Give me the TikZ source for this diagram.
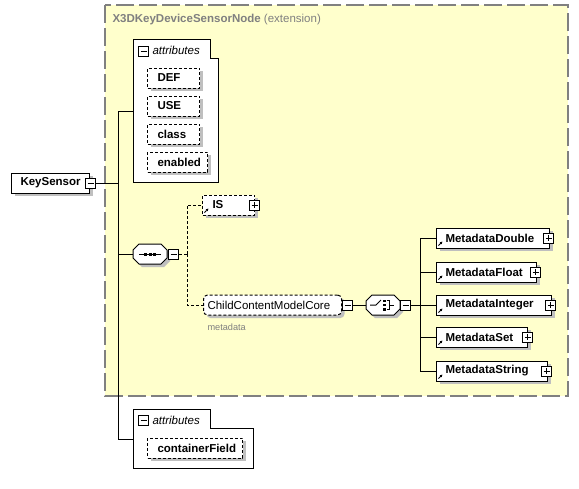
\documentclass[tikz,border=0pt]{standalone}
\usepackage{fontspec}
\setmainfont{Liberation Sans}
\usetikzlibrary{shadows,arrows.meta}

\definecolor{groupfill}{RGB}{255,255,204}
\definecolor{groupline}{RGB}{128,128,128}
\newcommand\diagfont{\fontsize{11.5}{13}\selectfont}

\tikzset{
 boxshadow/.style={drop shadow={shadow xshift=3pt,shadow yshift=-3pt,fill=black!25,opacity=1}},
 elem/.style={draw,fill=white,anchor=west,minimum height=20,inner xsep=9pt,inner ysep=0pt,
  align=left,font=\diagfont\bfseries,boxshadow},
 attr/.style={elem,dash pattern=on 3pt off 2pt,inner xsep=10pt},
 ref/.style={elem,path picture={
  \draw[-{Latex[length=2.6pt,width=3pt]},line width=1pt]
   ([shift={(2pt,2.5pt)}]path picture bounding box.south west) -- ++(4pt,4pt);}},
 pm/.style={draw,fill=white,anchor=west,minimum size=10,inner sep=0pt},
 minusbox/.style={pm,path picture={
  \draw ([xshift=2pt]path picture bounding box.west) -- ([xshift=-2pt]path picture bounding box.east);}},
 plusbox/.style={pm,path picture={
  \draw ([xshift=2pt]path picture bounding box.west) -- ([xshift=-2pt]path picture bounding box.east);
  \draw ([yshift=-2pt]path picture bounding box.north) -- ([yshift=2pt]path picture bounding box.south);}},
 octagon/.pic={
  \draw[fill=white,boxshadow] (0,0) -- (0,-4) -- (6,-10) -- (28,-10) -- (34,-4)
   -- (34,4) -- (28,10) -- (6,10) -- (0,4) -- cycle;
  \coordinate (-w) at (0,0);
  \coordinate (-c) at (17,0);
  \coordinate (-e) at (34,0);},
 link/.style={line width=1pt},
 optlink/.style={line width=1pt,dash pattern=on 3pt off 2pt}
}

\begin{document}
\begin{tikzpicture}[x=1pt,y=-1pt,line width=1pt,font=\diagfont]
\useasboundingbox (0,0) rectangle (579,488);

% extension group
\draw[fill=groupfill,draw=groupline,line width=1.3pt,dash pattern=on 18pt off 5pt]
 (105,5) rectangle (568,396);
\node[anchor=west,text=groupline,inner sep=0pt] (ext) at (112,20)
 {\textbf{X3DKeyDeviceSensorNode} (extension)};

% top attributes
\draw[fill=white] (133,39) -- (210,39) -- (210,58) -- (218,58) -- (218,182) -- (133,182) -- cycle;
\node[minusbox] (att1-m) at (138,51) {};
\node[anchor=west,inner sep=0pt] (att1-t) at (152,50) {\itshape attributes};
\node[attr,text width=32] (def) at (147,78) {DEF};
\node[attr,text width=32] (use) at (147,106) {USE};
\node[attr,text width=32] (cls) at (147,134) {class};
\node[attr,text width=40] (ena) at (147,162) {enabled};
\coordinate (att1) at (133,111);

% bottom attributes
\draw[fill=white] (133,409) -- (210,409) -- (210,428) -- (253,428) -- (253,468) -- (133,468) -- cycle;
\node[minusbox] (att2-m) at (138,420) {};
\node[anchor=west,inner sep=0pt] (att2-t) at (152,420) {\itshape attributes};
\node[attr,text width=75] (cf) at (147,448) {containerField};
\coordinate (att2) at (133,439);

% root element
\node[elem,text width=60] (ks) at (11,183) {KeySensor};
\node[minusbox] (ks-m) at (85,183) {};
\coordinate (tr) at (118,183);

% sequence
\pic (seq) at (133,254) {octagon};
\draw (seq-c) ++(-11,0) -- ++(22,0);
\fill (seq-c) ++(-6,-1.5) rectangle ++(3,3);
\fill (seq-c) ++(-1.5,-1.5) rectangle ++(3,3);
\fill (seq-c) ++(3,-1.5) rectangle ++(3,3);
\node[minusbox] (seq-m) at (168,254) {};
\coordinate (sq) at (187,254);

\node[ref,dash pattern=on 3pt off 2pt,inner xsep=10pt,text width=32] (is) at (202,205) {IS};
\node[plusbox] (is-p) at (249,205) {};

\node[elem,font=\diagfont\mdseries,rounded corners=4pt,dash pattern=on 3pt off 2pt,inner xsep=4pt,text width=130]
 (ccmc) at (203,305) {ChildContentModelCore};
\node[minusbox] (ccmc-m) at (342,305) {};
\node[anchor=west,inner sep=0pt,text=groupline,font=\fontsize{9.2}{11}\selectfont] (mdlab) at (207,327) {metadata};

% choice
\pic (cho) at (366,305) {octagon};
\draw (cho-c) ++(-13,0) -- ++(6,0) -- ++(5,-5);
\fill (cho-c) ++(0,-5.5) rectangle ++(2.5,2.5);
\fill (cho-c) ++(0,-1.25) rectangle ++(2.5,2.5);
\fill (cho-c) ++(0,3) rectangle ++(2.5,2.5);
\draw (cho-c) ++(3.5,-4.5) -- ++(3,0) -- ++(0,9) -- ++(-3,0);
\draw (cho-c) ++(6.5,0) -- ++(4,0);
\node[minusbox] (cho-m) at (400,305) {};
\coordinate (ch) at (420,305);

\node[ref,text width=95] (mdd) at (436,238) {MetadataDouble};
\node[plusbox] (mdd-p) at (543,238) {};
\node[ref,text width=82] (mdf) at (436,272) {MetadataFloat};
\node[plusbox] (mdf-p) at (530,272) {};
\node[ref,text width=97] (mdi) at (436,305) {MetadataInteger};
\node[plusbox] (mdi-p) at (545,305) {};
\node[ref,text width=73] (mds) at (436,337) {MetadataSet};
\node[plusbox] (mds-p) at (522,337) {};
\node[ref,text width=93] (mdst) at (436,371) {MetadataString};
\node[plusbox] (mdst-p) at (541,371) {};

% connectors
\draw[link] (ks-m.east) -- (tr);
\draw[link] (tr) |- (att1);
\draw[link] (tr) |- (seq-w);
\draw[link] (tr) |- (att2);
\draw[optlink] (seq-m.east) -- (sq);
\draw[optlink] (sq) |- (is.west);
\draw[optlink] (sq) |- (ccmc.west);
\draw[link] (ccmc-m.east) -- (cho-w);
\draw[link] (cho-m.east) -- (ch);
\draw[link] (ch) |- (mdd.west);
\draw[link] (ch) |- (mdf.west);
\draw[link] (ch) -- (mdi.west);
\draw[link] (ch) |- (mds.west);
\draw[link] (ch) |- (mdst.west);

\end{tikzpicture}
\end{document}
